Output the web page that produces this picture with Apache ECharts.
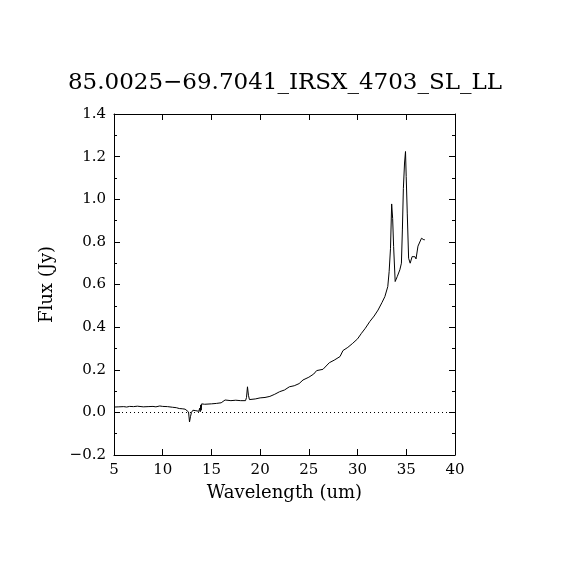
<!DOCTYPE html>
<html>
<head>
    <meta charset="utf-8" />
    <script src="https://cdn.jsdelivr.net/npm/echarts@6/dist/echarts.min.js"></script>
    <style>
        html, body { margin: 0; padding: 0; background: #fff; }
        #main { width: 570px; height: 570px; }
    </style>
</head>
<body>
<div id="main"></div>
<script type="text/javascript">
    // spectrum
    var wavelength = [5.0, 5.5, 6.0, 6.3, 6.6, 7.0, 7.4, 7.6, 8.0, 8.5, 9.0, 9.3, 9.7, 10.0, 10.5, 11.0, 11.4, 11.7, 12.0, 12.3, 12.5, 12.65, 12.75, 12.85, 12.95, 13.1, 13.4, 13.7, 13.8, 13.85, 13.9, 13.95, 14.0, 14.1, 14.3, 15.0, 15.5, 16.0, 16.2, 16.4, 16.6, 17.0, 17.5, 18.0, 18.5, 18.6, 18.7, 18.8, 18.9, 19.5, 20.0, 20.5, 21.0, 21.5, 22.0, 22.5, 23.0, 23.5, 24.0, 24.4, 25.0, 25.5, 25.8, 26.45, 27.1, 27.6, 28.2, 28.5, 29.0, 29.5, 30.0, 30.4, 30.8, 31.25, 31.7, 32.1, 32.5, 32.8, 33.1, 33.24, 33.38, 33.5, 33.6, 33.7, 33.86, 34.07, 34.34, 34.5, 34.6, 34.7, 34.82, 34.92, 34.99, 35.1, 35.24, 35.4, 35.6, 35.9, 36.0, 36.2, 36.4, 36.56, 36.8, 36.9];
    var flux = [0.025, 0.026, 0.027, 0.025, 0.028, 0.027, 0.029, 0.025, 0.026, 0.027, 0.028, 0.026, 0.030, 0.028, 0.027, 0.024, 0.022, 0.018, 0.017, 0.015, 0.012, 0.002, -0.045, -0.020, 0.000, 0.010, 0.008, 0.005, 0.020, 0.003, 0.035, 0.010, 0.040, 0.033, 0.038, 0.040, 0.042, 0.045, 0.050, 0.058, 0.053, 0.055, 0.057, 0.055, 0.055, 0.070, 0.120, 0.080, 0.060, 0.063, 0.068, 0.070, 0.075, 0.085, 0.097, 0.105, 0.120, 0.125, 0.135, 0.152, 0.165, 0.180, 0.196, 0.202, 0.233, 0.245, 0.262, 0.290, 0.305, 0.324, 0.345, 0.371, 0.395, 0.426, 0.452, 0.480, 0.515, 0.543, 0.590, 0.660, 0.770, 0.978, 0.910, 0.778, 0.614, 0.637, 0.669, 0.700, 0.856, 1.050, 1.170, 1.224, 1.107, 0.935, 0.723, 0.700, 0.731, 0.730, 0.720, 0.780, 0.785, 0.817, 0.810, 0.810];

    var title = '85.0025\u221269.7041_IRSX_4703_SL_LL';
    var xName = 'Wavelength (um)';
    var yName = 'Flux (Jy)';

    var points = [];
    for (var i = 0; i < wavelength.length; i++) {
        points.push([wavelength[i], flux[i]]);
    }

    var font = 'DejaVu Serif';
    var axisLine = { show: true, onZero: false, lineStyle: { color: '#000', width: 1 } };

    function yLabel(v) {
        return v.toFixed(1).replace('-', '\u2212');
    }

    var chart = echarts.init(document.getElementById('main'));
    var option = {
        animation: false,
        backgroundColor: '#fff',
        title: {
            text: title,
            left: 'center',
            top: 67,
            textStyle: { fontFamily: font, fontSize: 23, fontWeight: 'normal', color: '#000' }
        },
        grid: { left: 114, top: 114, width: 341, height: 341 },
        xAxis: [
            {
                type: 'value', min: 5, max: 40, interval: 5,
                name: xName, nameLocation: 'middle', nameGap: 29,
                nameTextStyle: { fontFamily: font, fontSize: 18, color: '#000' },
                axisLine: axisLine,
                axisTick: { inside: true, length: 6, lineStyle: { color: '#000' } },
                axisLabel: { fontFamily: font, fontSize: 15, color: '#000', margin: 8 },
                splitLine: { show: false }
            },
            {
                type: 'value', min: 5, max: 40, interval: 5, position: 'top',
                axisLine: axisLine,
                axisTick: { inside: true, length: 6, lineStyle: { color: '#000' } },
                axisLabel: { show: false },
                splitLine: { show: false }
            }
        ],
        yAxis: [
            {
                type: 'value', min: -0.2, max: 1.4, interval: 0.2,
                name: yName, nameLocation: 'middle', nameGap: 58,
                nameTextStyle: { fontFamily: font, fontSize: 18, color: '#000' },
                axisLine: axisLine,
                axisTick: { inside: true, length: 6, lineStyle: { color: '#000' } },
                minorTick: { show: true, splitNumber: 2, length: 3, lineStyle: { color: '#000' } },
                axisLabel: { fontFamily: font, fontSize: 15, color: '#000', margin: 8, formatter: yLabel },
                splitLine: { show: false }
            },
            {
                type: 'value', min: -0.2, max: 1.4, interval: 0.2, position: 'right',
                axisLine: axisLine,
                axisTick: { inside: true, length: 6, lineStyle: { color: '#000' } },
                minorTick: { show: true, splitNumber: 2, length: 3, lineStyle: { color: '#000' } },
                axisLabel: { show: false },
                splitLine: { show: false }
            }
        ],
        series: [
            {
                type: 'line',
                data: points,
                showSymbol: false,
                lineStyle: { color: '#000', width: 1 },
                markLine: {
                    silent: true,
                    symbol: 'none',
                    label: { show: false },
                    lineStyle: { color: '#000', type: [1, 3], width: 1 },
                    data: [[{ coord: [5, 0] }, { coord: [40, 0] }]]
                }
            }
        ]
    };
    chart.setOption(option);
</script>
</body>
</html>
